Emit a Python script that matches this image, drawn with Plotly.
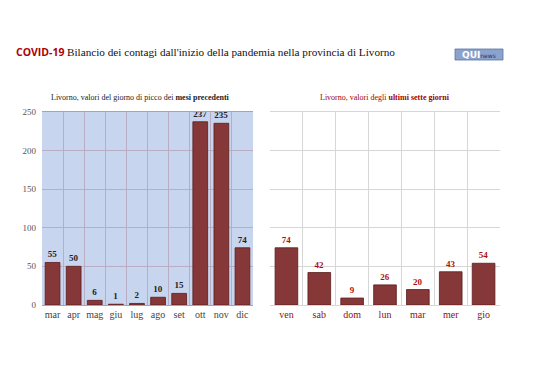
import plotly.graph_objects as go

months = ["mar", "apr", "mag", "giu", "lug", "ago", "set", "ott", "nov", "dic"]
month_vals = [55, 50, 6, 1, 2, 10, 15, 237, 235, 74]
days = ["ven", "sab", "dom", "lun", "mar", "mer", "gio"]
day_vals = [74, 42, 9, 26, 20, 43, 54]
y_ticks = [0, 50, 100, 150, 200, 250]

SERIF = "Liberation Serif"
SANS = "Open Sans"
BAR = "#863737"
BAR_EDGE = "#5c1c1c"

# page has an ~8px body margin; figure is sized so it fits the window
OFF = 8
W, H = 530, 372


def px(x):
    return (x - OFF) / W


def py(y):
    return 1 - (y - OFF) / H


fig = go.Figure()
fig.add_trace(go.Bar(
    x=months, y=month_vals, xaxis="x", yaxis="y",
    marker=dict(color=BAR, line=dict(color=BAR_EDGE, width=0.8)),
    width=0.7, text=month_vals, textposition="outside", cliponaxis=False,
    textfont=dict(family=SERIF, size=9, color="#222222"),
    texttemplate="<b>%{text}</b>", showlegend=False,
))
fig.add_trace(go.Bar(
    x=days, y=day_vals, xaxis="x2", yaxis="y2",
    marker=dict(color=BAR, line=dict(color=BAR_EDGE, width=0.8)),
    width=0.69, text=day_vals, textposition="outside", cliponaxis=False,
    textfont=dict(family=SERIF, size=9, color="#b01010"),
    texttemplate="<b>%{text}</b>", showlegend=False,
))

ydom = [py(305), py(111.7)]

fig.update_layout(
    width=W, height=H,
    margin=dict(l=0, r=0, t=0, b=0),
    paper_bgcolor="white", plot_bgcolor="white",
    font=dict(family=SERIF),
    xaxis=dict(
        domain=[px(42), px(253)], anchor="y", type="category",
        tickson="boundaries", showgrid=True, gridcolor="#b9adc6", gridwidth=1,
        ticks="", showline=True, linecolor="#a9a0b5", mirror=True,
        tickangle=0, automargin=False,
        tickfont=dict(family=SERIF, size=10, color="#444444"),
    ),
    yaxis=dict(
        domain=ydom, anchor="x", automargin=False,
        range=[0, 250], tickvals=y_ticks, showgrid=True, gridcolor="#b9adc6",
        zeroline=False, ticks="", ticklen=0, ticklabelstandoff=5,
        tickfont=dict(family=SERIF, size=9, color="#555555"),
    ),
    xaxis2=dict(
        domain=[px(270), px(500)], anchor="y2", type="category",
        tickson="boundaries", showgrid=True, gridcolor="#d6d6d6", gridwidth=1,
        ticks="", showline=True, linecolor="#d6d6d6", mirror=True,
        tickangle=0, automargin=False,
        tickfont=dict(family=SERIF, size=10, color="#8b1010"),
    ),
    yaxis2=dict(
        domain=ydom, anchor="x2", automargin=False,
        range=[0, 250], tickvals=y_ticks, showgrid=True, gridcolor="#d6d6d6",
        zeroline=False, showticklabels=False, ticks="",
    ),
    shapes=[
        dict(type="rect", xref="x domain", yref="y domain", x0=0, x1=1, y0=0, y1=1,
             fillcolor="#c8d5ee", line=dict(width=0), layer="below"),
        dict(type="rect", xref="paper", yref="paper",
             x0=px(455), x1=px(503), y0=py(60), y1=py(49),
             fillcolor="#8aa2cc", line=dict(color="#5a74a4", width=0.8)),
    ],
    annotations=[
        dict(text="<b>COVID-19</b>",
             xref="paper", yref="paper", x=px(14), y=py(52),
             xanchor="left", yanchor="middle", showarrow=False,
             font=dict(family=SANS, size=10.5, color="#b00000")),
        dict(text="Bilancio dei contagi dall'inizio della pandemia nella provincia di Livorno",
             xref="paper", yref="paper", x=px(65), y=py(52),
             xanchor="left", yanchor="middle", showarrow=False,
             font=dict(family=SERIF, size=11.2, color="#111111")),
        dict(text="Livorno, valori del giorno di picco dei <b>mesi precedenti</b>",
             xref="paper", yref="paper", x=px(140), y=py(97),
             xanchor="center", yanchor="middle", showarrow=False,
             font=dict(family=SERIF, size=8, color="#222222")),
        dict(text="Livorno, valori degli <b>ultimi sette giorni</b>",
             xref="paper", yref="paper", x=px(385), y=py(97),
             xanchor="center", yanchor="middle", showarrow=False,
             font=dict(family=SERIF, size=8, color="#a00000")),
        dict(text="<b>QUI</b><span style='font-size:6px;color:#1f3366'>news</span>",
             xref="paper", yref="paper", x=px(479), y=py(54.5),
             xanchor="center", yanchor="middle", showarrow=False,
             font=dict(family="DejaVu Sans", size=9, color="white")),
    ],
)

fig.write_html("out.html")
